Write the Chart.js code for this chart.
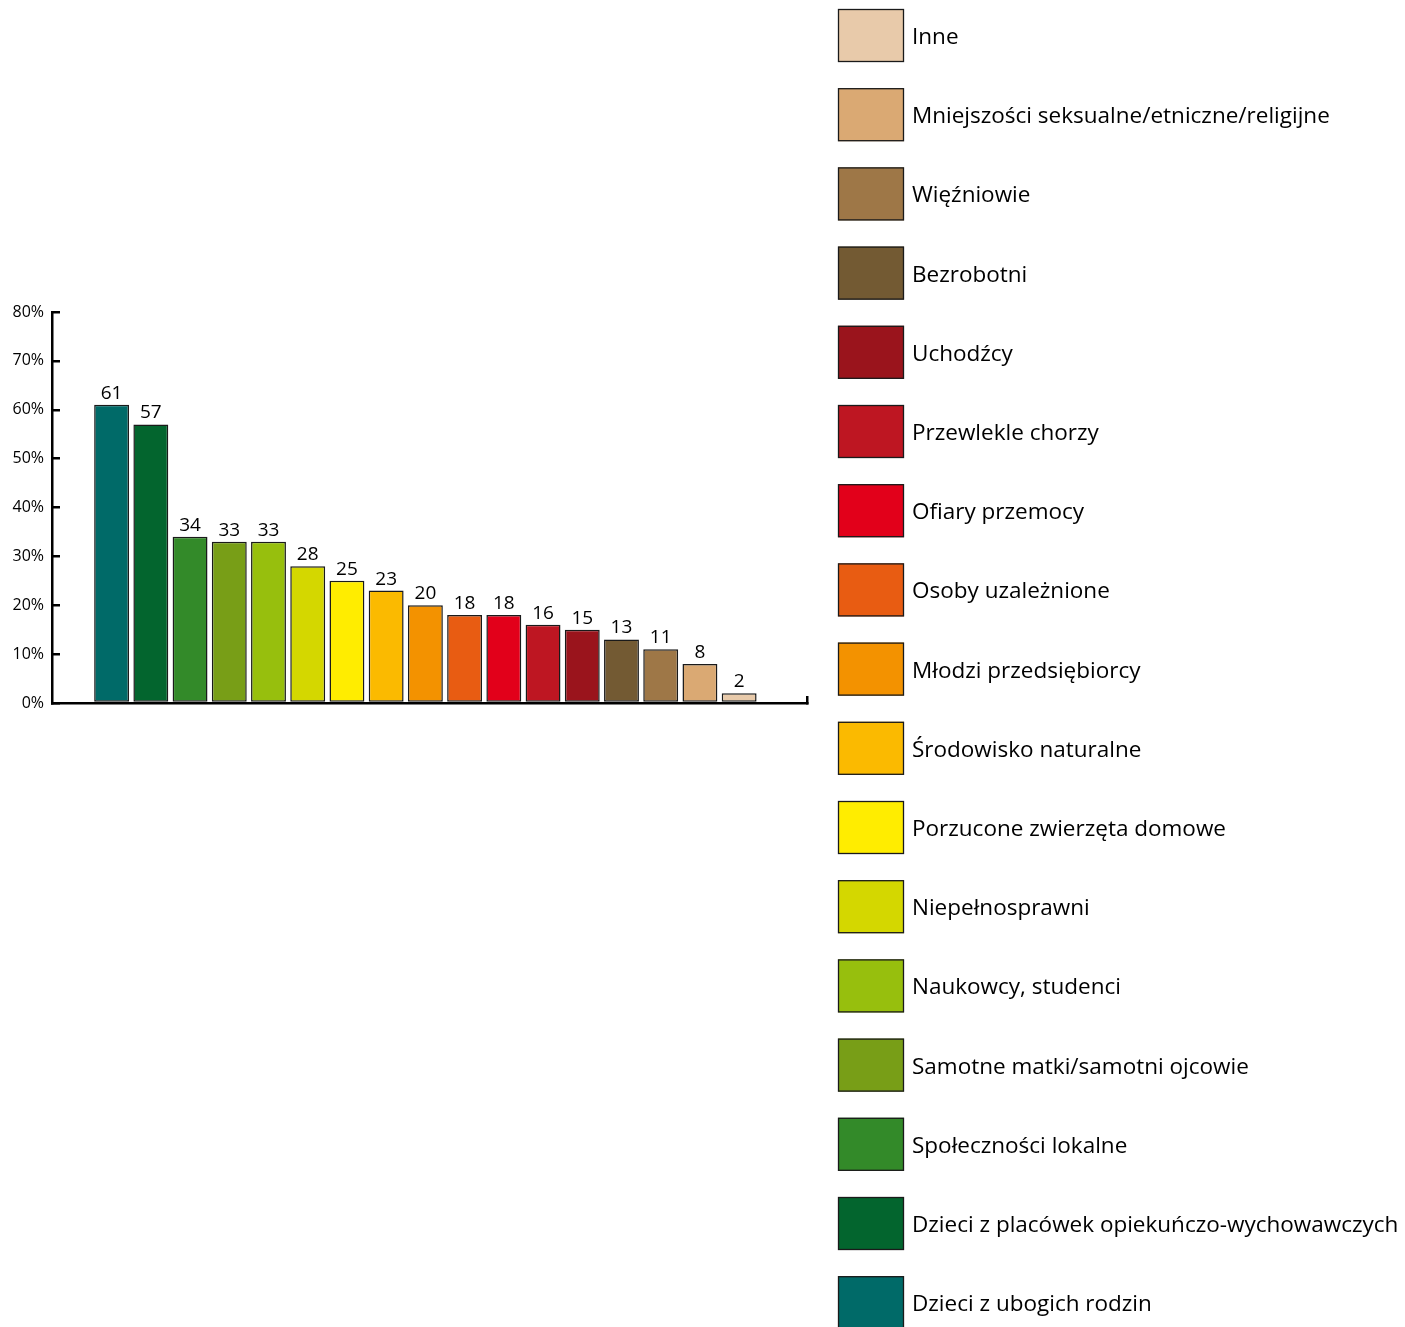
<!DOCTYPE html>
<html>
<head>
<meta charset="utf-8">
<script src="https://cdn.jsdelivr.net/npm/chart.js@4.4.1/dist/chart.umd.min.js"></script>
<style>
  html, body { margin: 0; padding: 0; background: #fff; }
  #wrap { width: 1405px; height: 1327px; }
</style>
</head>
<body>
<div id="wrap"><canvas id="chart"></canvas></div>
<script>
'use strict'

const categories = [
  'Dzieci z ubogich rodzin',
  'Dzieci z placówek opiekuńczo-wychowawczych',
  'Społeczności lokalne',
  'Samotne matki/samotni ojcowie',
  'Naukowcy, studenci',
  'Niepełnosprawni',
  'Porzucone zwierzęta domowe',
  'Środowisko naturalne',
  'Młodzi przedsiębiorcy',
  'Osoby uzależnione',
  'Ofiary przemocy',
  'Przewlekle chorzy',
  'Uchodźcy',
  'Bezrobotni',
  'Więźniowie',
  'Mniejszości seksualne/etniczne/religijne',
  'Inne'
]

const values = [61, 57, 34, 33, 33, 28, 25, 23, 20, 18, 18, 16, 15, 13, 11, 8, 2]

const colors = [
  '#006a68', '#03652e', '#338a29', '#789e17', '#97bf0d', '#d4d700',
  '#ffed00', '#fbba00', '#f39200', '#e85c12', '#e2001a', '#be1622',
  '#9a141c', '#735a33', '#9e7747', '#daa973', '#e8caaa'
]

const FONT = '"Open Sans", "Noto Sans", sans-serif'

// numbers above the bars
const barLabels = {
  id: 'barLabels',
  afterDatasetsDraw(chart) {
    const ctx = chart.ctx
    const meta = chart.getDatasetMeta(0)
    ctx.save()
    ctx.font = '19px ' + FONT
    ctx.fillStyle = '#000'
    ctx.textAlign = 'center'
    ctx.textBaseline = 'alphabetic'
    meta.data.forEach((bar, i) => {
      ctx.fillText(String(values[i]), bar.x, bar.y - 6)
    })
    ctx.restore()
  }
}

// legend on the right, last category on top
const sideLegend = {
  id: 'sideLegend',
  afterDraw(chart) {
    const ctx = chart.ctx
    const left = 838
    const boxW = 66
    const boxH = 53
    const step = 79.2
    ctx.save()
    ctx.font = '22.5px ' + FONT
    ctx.textAlign = 'left'
    ctx.textBaseline = 'middle'
    for (let k = 0; k < categories.length; k++) {
      const i = categories.length - 1 - k
      const top = 9 + k * step
      ctx.fillStyle = colors[i]
      ctx.fillRect(left, top, boxW, boxH)
      ctx.strokeStyle = '#1a1a1a'
      ctx.lineWidth = 1.3
      ctx.strokeRect(left + 0.5, top + 0.5, boxW - 1, boxH - 1)
      ctx.fillStyle = '#000'
      ctx.fillText(categories[i], 912, top + boxH / 2 + 2)
    }
    ctx.restore()
  }
}

const ctx = document.getElementById('chart').getContext('2d')

const chart = new Chart(ctx, {
  type: 'bar',
  data: {
    datasets: [{
      data: categories.map((c, i) => ({ x: i, y: values[i] })),
      backgroundColor: colors,
      borderColor: '#1a1a1a',
      borderWidth: 1.5,
      borderSkipped: false,
      categoryPercentage: 1,
      barPercentage: 0.89
    }]
  },
  options: {
    responsive: true,
    maintainAspectRatio: false,
    animation: false,
    layout: { padding: { top: 312, right: 598, bottom: 624, left: 0 } },
    plugins: {
      legend: { display: false },
      tooltip: { enabled: false }
    },
    scales: {
      x: {
        type: 'linear',
        offset: false,
        min: -1.52,
        max: 17.73,
        afterBuildTicks: s => { s.ticks = [{ value: s.max }] },
        afterFit: s => { s.height = 0 },
        ticks: { display: false },
        grid: { offset: false, drawOnChartArea: false, tickLength: -7, color: '#000', lineWidth: 2.5 },
        border: { color: '#000', width: 2.5 }
      },
      y: {
        min: 0,
        max: 80,
        afterFit: s => { s.width = 52 },
        ticks: {
          stepSize: 10,
          padding: 16,
          color: '#000',
          font: { size: 16, family: FONT },
          callback: v => v + '%'
        },
        grid: { drawOnChartArea: false, tickLength: -8, color: '#000', lineWidth: 2.5 },
        border: { color: '#000', width: 2.5 }
      }
    }
  },
  plugins: [barLabels, sideLegend]
})
</script>
</body>
</html>
